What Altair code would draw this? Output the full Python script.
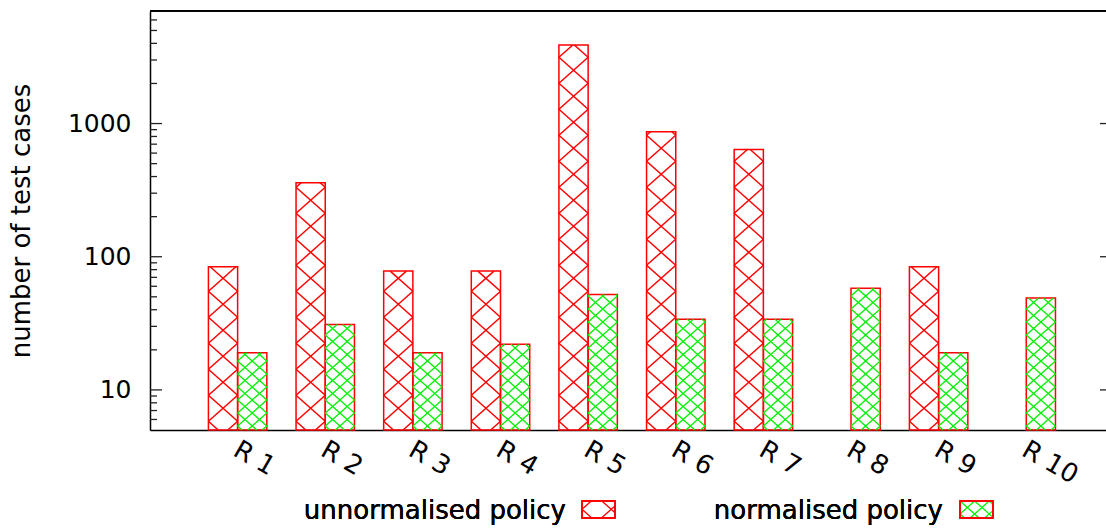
import math

import altair as alt
import pandas as pd

# ---- data -------------------------------------------------------------
categories = ["R 1", "R 2", "R 3", "R 4", "R 5", "R 6", "R 7", "R 8", "R 9", "R 10"]
unnormalised = [84, 360, 78, 78, 3890, 867, 638, None, 84, None]
normalised = [19, 31, 19, 22, 52, 34, 34, 58, 19, 49]
series_names = ["unnormalised policy", "normalised policy"]

y_major_ticks = [10, 100, 1000]
y_minor_ticks = [6, 7, 8, 9, 20, 30, 40, 50, 60, 70, 80, 90,
                 200, 300, 400, 500, 600, 700, 800, 900,
                 2000, 3000, 4000, 5000, 6000]

# ---- layout / style ---------------------------------------------------
W, H = 956, 419
X_MIN, X_MAX = -1, 9.91
Y_MIN, Y_MAX = 5, 7000
BAR_W = 1 / 3
RED = "#ff0000"
GREEN = "#00f000"
FONT = "DejaVu Sans"
FS_NUM = 25
FS_TEXT = 26

px_per_x = W / (X_MAX - X_MIN)
px_per_decade = H / math.log10(Y_MAX / Y_MIN)

# cross-hatch cell (width, height, vertical phase) in pixels for each series
HATCH = {
    series_names[0]: (BAR_W * px_per_x, 26.0, 8.7),
    series_names[1]: (BAR_W * px_per_x / 2, 13.0, 4.0),
}


def hatch_segments(width, height, cw, ch, phase):
    """Diagonal cross-hatch lines clipped to a width x height box (u grows upward)."""
    s = ch / cw
    segs = []
    kmin = int(math.floor((-s * width - height - phase) / ch)) - 1
    kmax = int(math.ceil((height + s * width - phase) / ch)) + 1
    for k in range(kmin, kmax + 1):
        c = phase + k * ch
        lo, hi = max(0.0, -c / s), min(width, (height - c) / s)
        if hi - lo > 1e-6:
            segs.append((lo, s * lo + c, hi, s * hi + c))
        lo, hi = max(0.0, (c - height) / s), min(width, c / s)
        if hi - lo > 1e-6:
            segs.append((lo, -s * lo + c, hi, -s * hi + c))
    return segs


# ---- bar table --------------------------------------------------------
rows = []
for i, cat in enumerate(categories):
    for name, vals, off in ((series_names[0], unnormalised, -BAR_W),
                            (series_names[1], normalised, 0.0)):
        v = vals[i]
        if v is None:
            continue
        rows.append({"category": cat, "series": name,
                     "x0": i + off, "x1": i + off + BAR_W, "value": v})
bars = pd.DataFrame(rows)

# hatch lines for every bar, expressed in data units
hrows = []
for r in bars.itertuples():
    cw, ch, ph = HATCH[r.series]
    bw_px = (r.x1 - r.x0) * px_per_x
    bh_px = math.log10(r.value / Y_MIN) * px_per_decade
    for xa, ua, xb, ub in hatch_segments(bw_px, bh_px, cw, ch, ph):
        hrows.append({
            "series": r.series,
            "x": r.x0 + xa / px_per_x,
            "x2": r.x0 + xb / px_per_x,
            "y": Y_MIN * 10 ** (ua / px_per_decade),
            "y2": Y_MIN * 10 ** (ub / px_per_decade),
        })
hatch = pd.DataFrame(hrows)

x_scale = alt.Scale(domain=[X_MIN, X_MAX], nice=False, zero=False)
y_scale = alt.Scale(type="log", domain=[Y_MIN, Y_MAX], nice=False)

label_list = "[" + ",".join("'" + c + "'" for c in categories) + "]"

x_axis = alt.Axis(
    values=list(range(len(categories))),
    labelExpr=label_list + "[datum.value]",
    ticks=False, grid=False,
    labelAngle=30, labelAlign="left", labelBaseline="top",
    labelPadding=6, labelOffset=4,
    labelFont=FONT, labelFontSize=FS_TEXT, labelColor="black",
    labelOverlap=False, labelBound=False, labelFlush=False,
    domainColor="black", domainWidth=1.5, title=None,
)
y_axis = alt.Axis(
    values=y_major_ticks, format="d", ticks=False, grid=False,
    labelFont=FONT, labelFontSize=FS_NUM, labelColor="black", labelPadding=19,
    domainColor="black", domainWidth=1.5,
    title="number of test cases", titleFont=FONT, titleFontSize=FS_TEXT,
    titleFontWeight="normal", titleColor="black",
    titleX=-121, titleY=H / 2, titleAngle=270,
    titleAlign="center", titleBaseline="alphabetic",
)


def X(field):
    return alt.X(field, scale=x_scale, axis=x_axis)


def Y(field):
    return alt.Y(field, scale=y_scale, axis=y_axis)


def hatch_layer(name, color, width):
    return alt.Chart(hatch[hatch["series"] == name]).mark_rule(
        color=color, strokeWidth=width
    ).encode(x=X("x:Q"), x2="x2:Q", y=Y("y:Q"), y2="y2:Q")


hatch_red = hatch_layer(series_names[0], RED, 1.5)
hatch_green = hatch_layer(series_names[1], GREEN, 1.3)

outlines = alt.Chart(bars).mark_rect(
    fill="white", fillOpacity=0, stroke=RED, strokeWidth=1.5
).encode(x=X("x0:Q"), x2="x1:Q", y=Y("value:Q"), y2=alt.datum(Y_MIN))

major = pd.DataFrame({"v": y_major_ticks})
minor = pd.DataFrame({"v": y_minor_ticks})
tick_style = dict(color="#222222", strokeWidth=1.3)
ticks_major = alt.Chart(major).mark_rule(**tick_style).encode(
    y=Y("v:Q"), x=alt.value(0), x2=alt.value(12))
ticks_minor = alt.Chart(minor).mark_rule(**tick_style).encode(
    y=Y("v:Q"), x=alt.value(0), x2=alt.value(7))
ticks_right = alt.Chart(major).mark_rule(**tick_style).encode(
    y=Y("v:Q"), x=alt.value(W - 6), x2=alt.value(W))
top_border = alt.Chart(major).mark_rule(color="black", strokeWidth=1.5).encode(
    y=alt.value(0), x=alt.value(0), x2=alt.value(W))

main = alt.layer(outlines, hatch_red, hatch_green,
                 ticks_major, ticks_minor, ticks_right, top_border)

# ---- legend (pixel positions below the plot) ---------------------------
BOX_W, BOX_H = 33, 17
BOX_TOP = 490
legend_boxes = [(432, series_names[0], RED), (810, series_names[1], GREEN)]
legend_text_right = [416, 793]

lrows = []
for bx, name, color in legend_boxes:
    cw, ch, ph = HATCH[name]
    for xa, ua, xb, ub in hatch_segments(BOX_W, BOX_H, cw, ch, ph):
        lrows.append({"series": name, "px": bx + xa, "px2": bx + xb,
                      "py": BOX_TOP + BOX_H - ua, "py2": BOX_TOP + BOX_H - ub})
legend_hatch = pd.DataFrame(lrows)

legend_layers = []
for (bx, name, color), tx in zip(legend_boxes, legend_text_right):
    sub = legend_hatch[legend_hatch["series"] == name]
    legend_layers.append(
        alt.Chart(sub).mark_rule(color=color, strokeWidth=1.3).encode(
            x=alt.X("px:Q", scale=None, axis=None), x2="px2:Q",
            y=alt.Y("py:Q", scale=None, axis=None), y2="py2:Q"))
    legend_layers.append(
        alt.Chart(major).mark_rect(fill="white", fillOpacity=0, stroke=RED,
                                   strokeWidth=1.4).encode(
            x=alt.value(bx), x2=alt.value(bx + BOX_W),
            y=alt.value(BOX_TOP), y2=alt.value(BOX_TOP + BOX_H)))
    legend_layers.append(
        alt.Chart(major).mark_text(text=name, align="right", baseline="alphabetic",
                                   font=FONT, fontSize=FS_TEXT, color="black").encode(
            x=alt.value(tx), y=alt.value(508)))

legend = alt.layer(*legend_layers)

chart = alt.layer(main, legend).resolve_scale(
    x="independent", y="independent"
).properties(
    width=W, height=H,
    padding={"left": 150, "top": 11, "right": 0, "bottom": 99},
    autosize=alt.AutoSizeParams(type="none"),
    background="white",
).configure_view(strokeWidth=0)

chart.save("out.html", embed_options={"renderer": "svg", "actions": False})
